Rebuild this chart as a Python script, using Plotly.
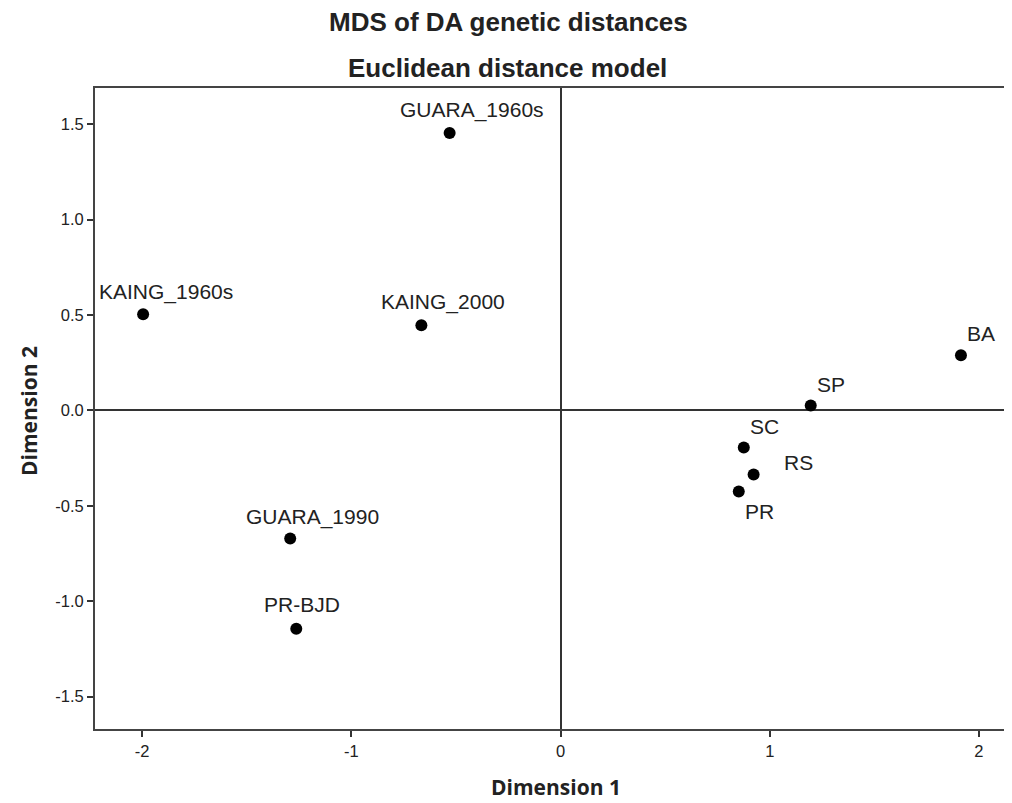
import plotly.graph_objects as go

labels = ["GUARA_1960s", "KAING_1960s", "KAING_2000", "BA", "SP", "SC", "RS", "PR", "GUARA_1990", "PR-BJD"]
dim1 = [-0.53, -1.995, -0.665, 1.914, 1.196, 0.876, 0.923, 0.852, -1.292, -1.263]
dim2 = [1.454, 0.504, 0.446, 0.289, 0.026, -0.194, -0.336, -0.425, -0.672, -1.144]
# label offsets in pixels (dx, dy) relative to the point
label_dx = [22, 23, 22, 20, 20, 21, 45, 21, 22, 6]
label_dy = [23, 22, 23, 22, 21, 21, 12, -20, 22, 24]

x_ticks = [-2, -1, 0, 1, 2]
y_ticks = [-1.5, -1.0, -0.5, 0.0, 0.5, 1.0, 1.5]

W, H = 1004, 795
L, R, T, B = 87, 0, 80, 74
PW, PH = W - L - R, H - T - B

fig = go.Figure()
fig.add_trace(go.Scatter(
    x=dim1, y=dim2, mode="markers",
    marker=dict(color="black", size=12),
    showlegend=False, hoverinfo="text", text=labels,
))

for lab, x, y, dx, dy in zip(labels, dim1, dim2, label_dx, label_dy):
    fig.add_annotation(x=x, y=y, text=lab, showarrow=False, xshift=dx, yshift=dy,
                       font=dict(family="Liberation Sans, Arial", size=21, color="#222"))

axis_common = dict(showgrid=False, showline=True, linecolor="#444", linewidth=2,
                   ticks="outside", ticklen=6, tickcolor="#333", tickwidth=1.5,
                   zeroline=True, zerolinecolor="#333", zerolinewidth=2,
                   tickfont=dict(family="Liberation Sans, Arial", size=16.5, color="#222"))

fig.update_xaxes(range=[-2.225, 2.158], tickvals=x_ticks, ticktext=[str(v) for v in x_ticks],
                 mirror=True, **axis_common)
fig.update_yaxes(range=[-1.67, 1.69], tickvals=y_ticks, ticktext=[f"{v:.1f}" for v in y_ticks],
                 mirror=False, **axis_common)

title_font = dict(family="Liberation Sans, Arial", size=26, color="#222")
fig.add_annotation(text="<b>MDS of DA genetic distances</b>", xref="paper", yref="paper",
                   x=(508 - 95) / PW, y=1 + (88 - 22) / PH, xanchor="center", yanchor="middle",
                   showarrow=False, font=title_font)
fig.add_annotation(text="<b>Euclidean distance model</b>", xref="paper", yref="paper",
                   x=(507 - 95) / PW, y=1 + (88 - 68) / PH, xanchor="center", yanchor="middle",
                   showarrow=False, font=title_font)

axis_title_font = dict(family="Open Sans, Liberation Sans, Arial", size=21, color="#222")
fig.add_annotation(text="<b>Dimension 1</b>", xref="paper", yref="paper",
                   x=(556 - 95) / PW, y=-(787 - 729) / PH, xanchor="center", yanchor="middle",
                   showarrow=False, font=axis_title_font)
fig.add_annotation(text="<b>Dimension 2</b>", xref="paper", yref="paper",
                   x=(29 - 95) / PW, y=(729 - 411) / PH, xanchor="center", yanchor="middle",
                   textangle=-90, showarrow=False, font=axis_title_font)

fig.update_layout(
    width=W, height=H,
    margin=dict(l=L, r=R, t=T, b=B),
    plot_bgcolor="white", paper_bgcolor="white",
)

fig.write_html("out.html")
